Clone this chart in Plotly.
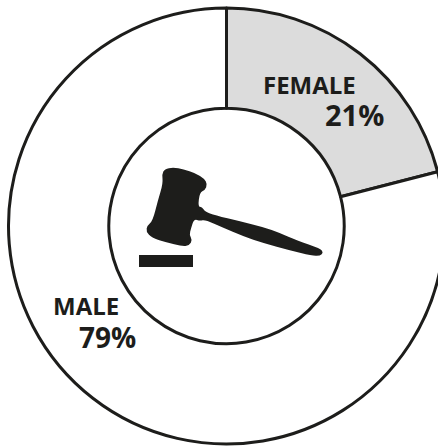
import plotly.graph_objects as go

labels = ["FEMALE", "MALE"]
values = [21, 79]
colors = ["#dcdcdc", "#ffffff"]
INK = "#1d1d1b"
W, H = 446, 446

# decorative gavel icon outline, traced in reference crop units (3x, offset 130,150)
gavel = [(96,72),(104,57),(130,52),(160,58),(197,70),(223,86),(232,103),(225,120),(209,128),
         (204,170),(216,171),(225,185),(255,196),(330,214),(400,231),(450,249),(500,271),
         (572,296),(580,308),(570,318),(545,317),(480,301),(400,279),(340,259),(280,233),
         (225,209),(210,213),(192,207),(183,235),(178,255),(187,270),(178,287),(155,289),
         (110,277),(66,264),(48,245),(52,226),(68,213),(84,150),(99,100)]
base = [(27,315),(189,351)]

def px(p):
    return (130 + p[0] / 3) / W, 1 - (150 + p[1] / 3) / H

def smooth(pts):
    n = len(pts)
    mid = lambda a, b: ((a[0] + b[0]) / 2, (a[1] + b[1]) / 2)
    start = mid(pts[-1], pts[0])
    d = "M%.5f,%.5f" % start
    for i in range(n):
        m = mid(pts[i], pts[(i + 1) % n])
        d += " Q%.5f,%.5f %.5f,%.5f" % (pts[i][0], pts[i][1], m[0], m[1])
    return d + " Z"

b0, b1 = px(base[0]), px(base[1])
fig = go.Figure(go.Pie(
    labels=labels, values=values, sort=False, direction="clockwise", rotation=0,
    hole=0.54, textinfo="none", showlegend=False,
    marker=dict(colors=colors, line=dict(color=INK, width=3)),
    domain=dict(x=[8.5 / W, 444.5 / W], y=[2 / H, 438 / H]),
))

def note(text, right, mid_y, size):
    return dict(text="<b>%s</b>" % text, x=right / W, y=1 - mid_y / H, xref="paper", yref="paper",
                xanchor="right", yanchor="middle", showarrow=False,
                font=dict(family="Open Sans", size=size, color=INK))

fig.update_layout(
    width=W, height=H, margin=dict(l=0, r=0, t=0, b=0),
    paper_bgcolor="white", plot_bgcolor="white",
    shapes=[
        dict(type="path", xref="paper", yref="paper", path=smooth([px(p) for p in gavel]),
             fillcolor=INK, line=dict(width=0)),
        dict(type="rect", xref="paper", yref="paper", x0=b0[0], y0=b1[1], x1=b1[0], y1=b0[1],
             fillcolor=INK, line=dict(width=0)),
    ],
    annotations=[
        note(labels[0], 358, 84, 24),
        note("%d%%" % values[0], 386, 115, 29),
        note(labels[1], 121, 305, 24),
        note("%d%%" % values[1], 138, 337, 28),
    ],
)
fig.write_html("out.html", config={"displayModeBar": False},
               post_script="document.body.style.margin='0';document.body.style.overflow='hidden';document.documentElement.style.overflow='hidden';")
